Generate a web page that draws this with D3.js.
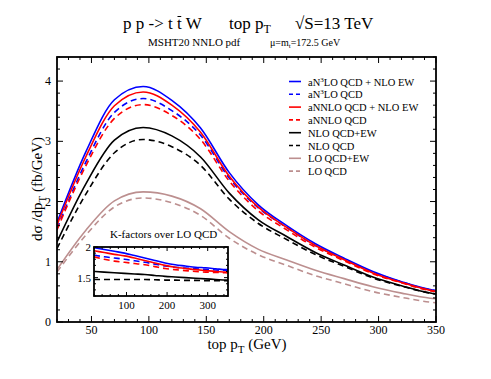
<!DOCTYPE html>
<html><head><meta charset="utf-8">
<script src="https://cdn.jsdelivr.net/npm/d3@7"></script>
<style>
body{margin:0;background:#fff}
svg text{font-family:"Liberation Serif","Times New Roman","DejaVu Serif",serif;fill:#000}
</style>
</head><body>
<svg id="c" width="491" height="379" font-family="Liberation Serif, Times New Roman, DejaVu Serif, serif"></svg>
<script>
// ---------- data ----------
const pT = [20,45,70,95,120,145,170,195,220,245,270,295,320,345,350];
const aN3LO_EW  = [1.65,2.82,3.69,3.91,3.68,3.22,2.48,1.95,1.60,1.30,1.06,0.84,0.67,0.54,0.52];
const aN3LO     = [1.55,2.65,3.48,3.71,3.51,3.10,2.39,1.90,1.57,1.27,1.045,0.826,0.666,0.535,0.518];
const aNNLO_EW  = [1.61,2.74,3.59,3.82,3.60,3.15,2.42,1.91,1.57,1.27,1.035,0.815,0.656,0.525,0.506];
const aNNLO     = [1.53,2.59,3.38,3.61,3.43,3.03,2.34,1.85,1.53,1.24,1.016,0.803,0.65,0.521,0.506];
const NLO_EW    = [1.33,2.29,3.02,3.23,3.09,2.74,2.14,1.70,1.42,1.155,0.946,0.747,0.603,0.482,0.467];
const NLO       = [1.22,2.12,2.81,3.03,2.91,2.60,2.04,1.64,1.37,1.12,0.924,0.732,0.595,0.479,0.464];
const LO_EW     = [0.87,1.52,2.01,2.16,2.09,1.88,1.50,1.21,1.03,0.86,0.72,0.585,0.48,0.395,0.385];
const LO        = [0.83,1.44,1.91,2.06,1.98,1.77,1.39,1.12,0.94,0.77,0.635,0.505,0.41,0.33,0.32];

// K-factors over LO QCD (inset)
const K_aN3LO_EW = [1.99,1.96,1.93,1.90,1.86,1.82,1.78,1.74,1.71,1.69,1.67,1.66,1.645,1.63,1.63];
const K_aN3LO    = [1.87,1.84,1.82,1.80,1.775,1.75,1.72,1.69,1.67,1.655,1.645,1.635,1.625,1.62,1.62];
const K_aNNLO_EW = [1.94,1.91,1.88,1.855,1.82,1.78,1.74,1.70,1.67,1.65,1.63,1.615,1.60,1.59,1.58];
const K_aNNLO    = [1.84,1.80,1.77,1.75,1.73,1.71,1.68,1.65,1.63,1.615,1.60,1.59,1.585,1.58,1.58];
const K_NLO_EW   = [1.60,1.59,1.58,1.57,1.56,1.55,1.535,1.52,1.51,1.50,1.49,1.48,1.47,1.46,1.46];
const K_NLO      = [1.47,1.47,1.47,1.47,1.47,1.47,1.465,1.46,1.46,1.455,1.455,1.45,1.45,1.45,1.45];

const xTicks = [50,100,150,200,250,300,350];
const yTicks = [0,1,2,3,4];
const insetXTicks = [100,200,300];
const insetYTicks = [1.5,2];

const legendLabels = ["aN³LO QCD + NLO EW","aN³LO QCD","aNNLO QCD + NLO EW","aNNLO QCD","NLO QCD+EW","NLO QCD","LO QCD+EW","LO QCD"];
const colors = ["#0000ff","#0000ff","#ff0000","#ff0000","#000000","#000000","#bc8f8f","#bc8f8f"];
const dashed = [false,true,false,true,false,true,false,true];
const mainSeries = [aN3LO_EW,aN3LO,aNNLO_EW,aNNLO,NLO_EW,NLO,LO_EW,LO];
const kSeries = [K_aN3LO_EW,K_aN3LO,K_aNNLO_EW,K_aNNLO,K_NLO_EW,K_NLO];

// ---------- drawing ----------
const svg = d3.select("#c");
const L=57, R=436, T=57, B=322;
const x = d3.scaleLinear().domain([20,350]).range([L,R]);
const y = d3.scaleLinear().domain([0,4.4]).range([B,T]);

// titles
const t1 = svg.append("text").attr("x",123).attr("y",29).attr("font-size",17);
t1.append("tspan").text("p p -> t ");
t1.append("tspan").text("t");
t1.append("tspan").text(" W");
const t1n = t1.node();
const pre = "p p -> t ".length;
const sx = t1n.getStartPositionOfChar(pre).x, ex = t1n.getEndPositionOfChar(pre).x;
svg.append("line").attr("x1",sx+0.5).attr("x2",ex-0.5).attr("y1",16.5).attr("y2",16.5).attr("stroke","#000").attr("stroke-width",1);
const t2 = svg.append("text").attr("x",229).attr("y",29).attr("font-size",17);
t2.append("tspan").text("top p");
t2.append("tspan").attr("dy",4).attr("font-size",12).text("T");
svg.append("text").attr("x",295).attr("y",29).attr("font-size",17).text("√S=13 TeV");
svg.append("text").attr("x",148).attr("y",46).attr("font-size",11).text("MSHT20 NNLO pdf");
const t3 = svg.append("text").attr("x",270).attr("y",46).attr("font-size",10);
t3.append("tspan").text("μ=m");
t3.append("tspan").attr("dy",2).attr("font-size",7).text("t");
t3.append("tspan").attr("dy",-2).text("=172.5 GeV");

// inward ticks on all four sides
function ticksAll(g, xs, ys, xMajor, xMinor, yMajor, yMinor, l, r, t, b, maj, min){
  d3.range(xMinor[0], xMinor[1]+1e-9, xMinor[2]).forEach(v=>{
    const len = xMajor.some(m=>Math.abs(m-v)<1e-6)?maj:min;
    g.append("line").attr("x1",xs(v)).attr("x2",xs(v)).attr("y1",b).attr("y2",b-len).attr("stroke","#000");
    g.append("line").attr("x1",xs(v)).attr("x2",xs(v)).attr("y1",t).attr("y2",t+len).attr("stroke","#000");
  });
  d3.range(yMinor[0], yMinor[1]+1e-9, yMinor[2]).forEach(v=>{
    const len = yMajor.some(m=>Math.abs(m-v)<1e-6)?maj:min;
    g.append("line").attr("y1",ys(v)).attr("y2",ys(v)).attr("x1",l).attr("x2",l+len).attr("stroke","#000");
    g.append("line").attr("y1",ys(v)).attr("y2",ys(v)).attr("x1",r).attr("x2",r-len).attr("stroke","#000");
  });
}

const line = d3.line().curve(d3.curveMonotoneX).x((d,i)=>x(pT[i])).y(d=>y(d));
svg.append("clipPath").attr("id","cp").append("rect").attr("x",L).attr("y",T).attr("width",R-L).attr("height",B-T);
const gl = svg.append("g").attr("clip-path","url(#cp)");
mainSeries.forEach((s,i)=>{
  gl.append("path").attr("d",line(s)).attr("fill","none").attr("stroke",colors[i])
    .attr("stroke-width",1.6).attr("stroke-dasharray",dashed[i]?"6,4":null);
});
const gp = svg.append("g");
ticksAll(gp, x, y, xTicks, [20,350,10], yTicks, [0,4.4,0.2], L, R, T, B, 6, 3);
gp.append("rect").attr("x",L).attr("y",T).attr("width",R-L).attr("height",B-T).attr("fill","none").attr("stroke","#000").attr("stroke-width",1.8);

xTicks.forEach(v=>svg.append("text").attr("x",x(v)).attr("y",334).attr("text-anchor","middle").attr("font-size",12).text(v));
yTicks.forEach(v=>svg.append("text").attr("x",51).attr("y",y(v)+4).attr("text-anchor","end").attr("font-size",12).text(v));

const xl = svg.append("text").attr("x",247).attr("y",349).attr("text-anchor","middle").attr("font-size",15);
xl.append("tspan").text("top p");
xl.append("tspan").attr("dy",4).attr("font-size",11).text("T");
xl.append("tspan").attr("dy",-4).text(" (GeV)");

const yl = svg.append("text").attr("transform","translate(42,189) rotate(-90)").attr("text-anchor","middle").attr("font-size",15);
yl.append("tspan").text("dσ /dp");
yl.append("tspan").attr("dy",4).attr("font-size",11).text("T");
yl.append("tspan").attr("dy",-4).text("  (fb/GeV)");

// legend
const lg = svg.append("g");
legendLabels.forEach((lab,i)=>{
  const yy = 81.5 + i*12.8;
  lg.append("line").attr("x1",289).attr("x2",301).attr("y1",yy).attr("y2",yy).attr("stroke",colors[i])
    .attr("stroke-width",1.6).attr("stroke-dasharray",dashed[i]?"4,3":null);
  const tx = lg.append("text").attr("x",308).attr("y",yy+4).attr("font-size",10.5);
  if(lab.indexOf("³")>=0){
    const parts = lab.split("³");
    tx.append("tspan").text(parts[0]);
    tx.append("tspan").attr("dy",-4).attr("font-size",7).text("3");
    tx.append("tspan").attr("dy",4).text(parts[1]);
  } else tx.text(lab);
});

// inset
const iL=94, iR=228, iT=247, iB=296;
const xi = d3.scaleLinear().domain([20,350]).range([iL,iR]);
const yi = d3.scaleLinear().domain([1.2,2.0]).range([iB,iT]);
svg.append("rect").attr("x",iL).attr("y",iT).attr("width",iR-iL).attr("height",iB-iT).attr("fill","#fff");
svg.append("clipPath").attr("id","ci").append("rect").attr("x",iL).attr("y",iT).attr("width",iR-iL).attr("height",iB-iT);
const gi = svg.append("g").attr("clip-path","url(#ci)");
const iline = d3.line().curve(d3.curveMonotoneX).x((d,i)=>xi(pT[i])).y(d=>yi(d));
kSeries.forEach((s,i)=>{
  gi.append("path").attr("d",iline(s)).attr("fill","none").attr("stroke",colors[i])
    .attr("stroke-width",1.6).attr("stroke-dasharray",dashed[i]?"6,4":null);
});
const gti = svg.append("g");
ticksAll(gti, xi, yi, insetXTicks, [20,340,20], insetYTicks, [1.2,2.0,0.1], iL, iR, iT, iB, 4, 2);
gti.append("rect").attr("x",iL).attr("y",iT).attr("width",iR-iL).attr("height",iB-iT).attr("fill","none").attr("stroke","#000").attr("stroke-width",1.8);
insetXTicks.forEach(v=>svg.append("text").attr("x",xi(v)).attr("y",309).attr("text-anchor","middle").attr("font-size",11).text(v));
insetYTicks.forEach(v=>svg.append("text").attr("x",iL-3).attr("y",yi(v)+4).attr("text-anchor","end").attr("font-size",11).text(v));
svg.append("text").attr("x",110).attr("y",238).attr("font-size",11).text("K-factors over LO QCD");
</script>
</body></html>
